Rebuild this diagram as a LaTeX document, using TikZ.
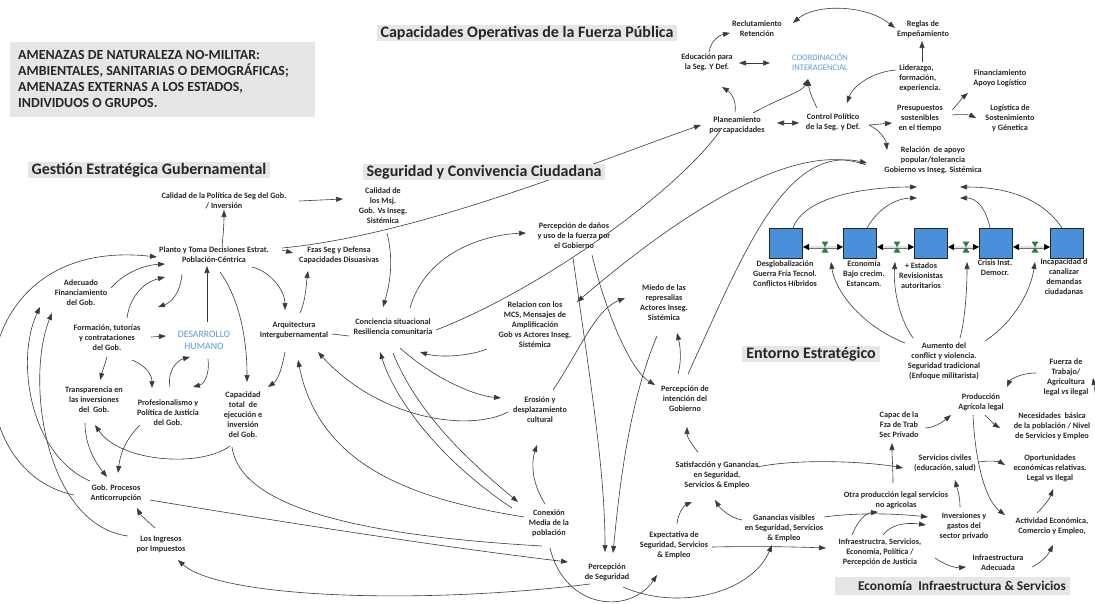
\documentclass[tikz,border=0pt]{standalone}
\usepackage{fontspec}
\setmainfont{Carlito}
\usetikzlibrary{arrows.meta,calc}
\definecolor{txt}{HTML}{262626}
\definecolor{lnk}{HTML}{3A3A3A}
\definecolor{hdrbg}{HTML}{E6E6E6}
\definecolor{blu}{HTML}{5B9BD5}
\definecolor{boxblue}{HTML}{4A8FDA}
\definecolor{valvegreen}{HTML}{2E7A4C}
\tikzset{
  lbl/.style={align=center, text=txt, font=\fontsize{8.2}{10}\selectfont\bfseries, inner sep=1pt},
  bluelbl/.style={align=center, text=blu, font=\fontsize{8.5}{10.5}\selectfont, inner sep=1pt},
  hdr/.style={fill=hdrbg, text=black!85, font=\fontsize{16}{17}\selectfont\bfseries, inner xsep=4pt, inner ysep=1.5pt},
  arr/.style={draw=lnk, line width=0.6pt, -{Triangle[length=7pt,width=5pt]}},
  dbl/.style={draw=lnk, line width=0.6pt, {Triangle[length=7pt,width=5pt]}-{Triangle[length=7pt,width=5pt]}},
  ln/.style={draw=lnk, line width=0.6pt},
  sysbox/.style={draw=black!85, line width=1pt, fill=boxblue, minimum width=33pt, minimum height=30pt, inner sep=0pt},
  pipeend/.style={draw=black, line width=0.5pt, {Triangle[length=6pt,width=6pt]}-{Triangle[length=6pt,width=6pt]}},
  pipeband/.style={draw=black!55, line width=3pt, shorten <=6pt, shorten >=6pt},
  pipecore/.style={draw=black!12, line width=1.3pt, shorten <=6pt, shorten >=6pt}
}
\begin{document}
\begin{tikzpicture}[x=1pt,y=-1pt]
\useasboundingbox (0,0) rectangle (1095,603);
\fill[white] (0,0) rectangle (1095,603);

% ---------- threat box ----------
\fill[hdrbg] (10,42) rectangle (315,117);
\node[anchor=west, align=left, text=txt, font=\fontsize{13.9}{15.8}\selectfont\bfseries, inner sep=0pt] (amen) at (18,79)
  {AMENAZAS DE NATURALEZA NO-MILITAR:\\AMBIENTALES, SANITARIAS O DEMOGRÁFICAS;\\AMENAZAS EXTERNAS A LOS ESTADOS,\\INDIVIDUOS O GRUPOS.};

% ---------- operational capacities ----------
\node[lbl] (recl) at (757,29) {Reclutamiento\\Retención};
\node[lbl] (reglas) at (923,29) {Reglas de\\Empeñamiento};
\node[lbl] (educ) at (707,62) {Educación para\\la Seg. Y Def.};
\node[bluelbl] (coord) at (820,62) {COORDINACIÓN\\INTERAGENCIAL};
\node[lbl, align=left] (lider) at (920,78) {Liderazgo,\\formación,\\experiencia.};
\node[lbl] (plan) at (737,125) {Planeamiento\\por capacidades};
\node[lbl] (ctrl) at (833,122) {Control Político\\de la Seg. y Def.};
\node[lbl] (presu) at (920,118) {Presupuestos\\sostenibles\\en el tiempo};
\node[lbl] (finan) at (1000,78) {Financiamiento\\Apoyo Logístico};
\node[lbl] (logis) at (1010,118) {Logística de\\Sostenimiento\\y Génetica};
\node[lbl] (apoyo) at (933,160) {Relación\ \ de apoyo\\popular/tolerancia\\Gobierno vs Inseg. Sistémica};

% ---------- government management ----------
\node[lbl] (calpol) at (224,201) {Calidad de la Política de Seg del Gob.\\/ Inversión};
\node[lbl] (calmsj) at (383,206) {Calidad de\\los Msj.\\Gob. Vs Inseg.\\Sistémica};
\node[lbl] (planto) at (214,255) {Planto y Toma Decisiones Estrat.\\Población-Céntrica};
\node[lbl] (fzas) at (339,255) {Fzas Seg y Defensa\\Capacidades Disuasivas};
\node[lbl] (adec) at (81,293) {Adecuado\\Financiamiento\\del Gob.};
\node[lbl] (form) at (107,338) {Formación, tutorías\\y contrataciones\\del Gob.};
\node[bluelbl, font=\fontsize{9.8}{12}\selectfont] (desa) at (204,340) {DESARROLLO\\HUMANO};
\node[lbl] (arqu) at (294,330) {Arquitectura\\Intergubernamental};
\node[lbl] (transp) at (94,400) {Transparencia en\\las inversiones\\del\ \ Gob.};
\node[lbl] (prof) at (168,413) {Profesionalismo y\\Política de Justicia\\del Gob.};
\node[lbl] (capac) at (243,415) {Capacidad\\total\ \ de\\ejecución e\\inversión\\del Gob.};
\node[lbl] (anticor) at (116,493) {Gob. Procesos\\Anticorrupción};
\node[lbl] (ingr) at (161,544) {Los Ingresos\\por Impuestos};

% ---------- citizen security ----------
\node[lbl] (conc) at (393,327) {Conciencia situacional\\Resiliencia comunitaria};
\node[lbl] (danos) at (574,236) {Percepción de daños\\y uso de la fuerza por\\el Gobierno};
\node[lbl] (mcs) at (535,325) {Relacion con los\\MCS, Mensajes de\\Amplificación\\Gob vs Actores Inseg.\\Sistémica};
\node[lbl] (miedo) at (664,303) {Miedo de las\\represalias\\Actores Inseg.\\Sistémica};
\node[lbl] (eros) at (540,410) {Erosión y\\desplazamiento\\cultural};
\node[lbl] (intenc) at (685,399) {Percepción de\\intención del\\Gobierno};
\node[lbl] (conex) at (549,523) {Conexión\\Media de la\\población};
\node[lbl] (percseg) at (607,572) {Percepción\\de Seguridad};
\node[lbl] (expec) at (674,545) {Expectativa de\\Seguridad, Servicios\\\& Empleo};
\node[lbl] (satis) at (717,475) {Satisfacción y Ganancias\\en Seguridad,\\Servicios \& Empleo};

% ---------- economy ----------
\node[lbl] (ganan) at (784,528) {Ganancias visibles\\en Seguridad, Servicios\\\& Empleo};
\node[lbl] (infra) at (880,552) {Infraestructra, Servicios,\\Economía, Política /\\Percepción de Justicia};
\node[lbl] (otra) at (896,500) {Otra producción legal servicios\\no agricolas};
\node[lbl] (inver) at (964,526) {Inversiones y\\gastos del\\sector privado};
\node[lbl] (servc) at (945,463) {Servicios civiles\\(educación, salud)};
\node[lbl] (capft) at (899,425) {Capac de la\\Fza de Trab\\Sec Privado};
\node[lbl] (prod) at (981,402) {Producción\\Agrícola legal};
\node[lbl] (fuerza) at (1066,377) {Fuerza de\\Trabajo/\\Agricultura\\legal vs ilegal};
\node[lbl] (neces) at (1052,426) {Necesidades\ \ básica\\de la población / Nivel\\de Servicios y Empleo};
\node[lbl] (oport) at (1050,468) {Oportunidades\\económicas relativas.\\Legal vs Ilegal};
\node[lbl] (activ) at (1052,526) {Actividad Económica,\\Comercio y Empleo,};
\node[lbl] (infad) at (998,563) {Infraestructura\\Adecuada};

% ---------- strategic environment ----------
\node[lbl] (aumen) at (944,361) {Aumento del\\conflict y violencia.\\Seguridad tradicional\\(Enfoque militarista)};
\node[sysbox] (b1) at (786,243) {};
\node[sysbox] (b2) at (860,243) {};
\node[sysbox] (b3) at (931,243) {};
\node[sysbox] (b4) at (996,243) {};
\node[sysbox] (b5) at (1067,243) {};
\node[lbl] (l1) at (785,274) {Desglobalización\\Guerra Fría Tecnol.\\Conflictos Híbridos};
\node[lbl] (l2) at (864,274) {Economía\\Bajo crecim.\\Estancam.};
\node[lbl] (l3) at (921,276) {+ Estados\\Revisionistas\\autoritarios};
\node[lbl] (l4) at (995,268) {Crisis Inst.\\Democr.};
\node[lbl] (l5) at (1064,277) {Incapacidad d\\canalizar\\demandas\\ciudadanas};
\coordinate (v1) at (825,247);
\coordinate (v2) at (897,247);
\coordinate (v3) at (966,247);
\coordinate (v4) at (1035,247);

% pipes between the system boxes
\foreach \a/\b in {b1/b2,b2/b3,b3/b4,b4/b5}{
  \draw[pipeend] ($(\a.east)+(0,4)$) -- ($(\b.west)+(0,4)$);
  \draw[pipeband] ($(\a.east)+(0,4)$) -- ($(\b.west)+(0,4)$);
  \draw[pipecore] ($(\a.east)+(0,4)$) -- ($(\b.west)+(0,4)$);
}
\foreach \v in {v1,v2,v3,v4}{
  \fill[valvegreen] ($(\v)+(-3.5,-5.5)$) -- ($(\v)+(3.5,-5.5)$) -- ($(\v)+(-3.5,5.5)$) -- ($(\v)+(3.5,5.5)$) -- cycle;
}

% ---------- connectors: operational capacities ----------
\draw[arr] ($(educ)+(2,-10)$) .. controls (711,40) and (720,35) .. ($(recl)+(-27,4)$);
\draw[dbl] ($(recl)+(36,-6)$) .. controls (815,4) and (865,4) .. ($(reglas)+(-28,-1)$);
\draw[dbl] ($(educ)+(32,1)$) -- ($(coord)+(-50,1)$);
\draw[arr] ($(plan)+(-2,-13)$) .. controls (737,100) and (730,92) .. ($(educ)+(15,25)$);
\draw[arr] ($(plan)+(16,-12)$) .. controls (780,98) and (802,92) .. ($(coord)+(-12,17)$);
\draw[arr] ($(ctrl)+(-16,-14)$) .. controls (812,98) and (809,90) .. ($(coord)+(-12,17)$);
\draw[dbl] ($(plan)+(40,-2)$) -- ($(ctrl)+(-34,1)$);
\draw[arr] ($(lider)+(2,-16)$) -- ($(reglas)+(-1,12)$);
\draw[arr] ($(lider)+(-24,-8)$) .. controls (870,72) and (852,88) .. ($(ctrl)+(14,-19)$);
\draw[arr] ($(ctrl)+(36,3)$) -- ($(presu)+(-28,5)$);
\draw[arr] ($(ctrl)+(36,3)$) .. controls (880,130) and (886,140) .. ($(apoyo)+(-46,-10)$);
\draw[arr] ($(presu)+(32,-8)$) .. controls (958,104) and (962,98) .. ($(finan)+(-32,15)$);
\draw[arr] ($(presu)+(32,-3)$) .. controls (962,114) and (970,115) .. ($(logis)+(-34,0)$);

% long links across the picture
\draw[ln] ($(conc)+(43,3)$) .. controls (540,290) and (680,190) .. ($(plan)+(-15,3)$);
\draw[arr] ($(apoyo)+(-67,5)$) .. controls (800,140) and (690,205) .. ($(mcs)+(42,-23)$);
\draw[arr] ($(intenc)+(3,-25)$) .. controls (745,250) and (785,145) .. ($(apoyo)+(-66,3)$);
\draw[arr] ($(planto)+(68,-7)$) .. controls (420,235) and (600,160) .. ($(plan)+(-36,0)$);

% system boxes towards popular support
\draw[arr] ($(b1)+(7,-15)$) .. controls (805,195) and (870,187) .. ($(apoyo)+(-16,27)$);
\draw[arr] ($(b2)+(7,-15)$) .. controls (880,205) and (900,198) .. ($(apoyo)+(-16,38)$);
\draw[arr] ($(b4)+(-6,-15)$) .. controls (985,205) and (975,198) .. ($(apoyo)+(27,38)$);
\draw[arr] ($(b5)+(-5,-15)$) .. controls (1040,195) and (1000,187) .. ($(apoyo)+(27,27)$);

% conflict towards the valves
\draw[arr] ($(aumen)+(-39,-18)$) .. controls (860,325) and (835,290) .. ($(v1)+(6,15)$);
\draw[arr] ($(aumen)+(-31,-23)$) .. controls (900,320) and (893,290) .. ($(v2)+(-2,15)$);
\draw[arr] ($(aumen)+(16,-23)$) .. controls (965,320) and (967,290) .. ($(v3)+(1,15)$);
\draw[arr] ($(aumen)+(41,-20)$) .. controls (1010,325) and (1030,295) .. ($(v4)+(0,15)$);

% ---------- connectors: government management ----------
\draw[arr] ($(planto)+(8,-9)$) .. controls (224,228) and (224,218) .. ($(calpol)+(0,9)$);
\draw[arr] ($(calpol)+(75,0)$) -- ($(calmsj)+(-40,-7)$);
\draw[arr] ($(calmsj)+(4,27)$) .. controls (395,265) and (388,290) .. ($(conc)+(-10,-20)$);
\draw[arr] ($(planto)+(68,-5)$) -- ($(fzas)+(-46,-2)$);
\draw[arr] ($(planto)+(38,12)$) .. controls (272,272) and (285,292) .. ($(arqu)+(-9,-20)$);
\draw[arr] ($(arqu)+(6,-17)$) .. controls (306,300) and (306,285) .. ($(fzas)+(-31,16)$);
\draw[ln] ($(arqu)+(38,4)$) -- ($(conc)+(-44,9)$);
\draw[arr] ($(adec)+(30,-5)$) .. controls (125,272) and (145,265) .. ($(planto)+(-49,9)$);
\draw[arr] ($(form)+(20,-20)$) .. controls (130,295) and (145,282) .. ($(planto)+(-49,22)$);
\draw[arr] ($(planto)+(-32,19)$) .. controls (180,295) and (170,303) .. ($(form)+(51,-31)$);
\draw[arr] ($(anticor)+(-42,2)$) .. controls (-48,470) and (-42,235) .. ($(planto)+(-57,2)$);
\draw[arr] ($(anticor)+(-26,-12)$) .. controls (30,455) and (15,360) .. ($(adec)+(-41,14)$);
\draw[arr] ($(ingr)+(-33,-8)$) .. controls (45,525) and (25,380) .. ($(adec)+(-29,20)$);
\draw[arr] ($(form)+(44,-1)$) -- ($(desa)+(-38,-4)$);
\draw[arr] ($(desa)+(3,-18)$) -- ($(planto)+(-7,11)$);
\draw[arr] ($(form)+(0,19)$) .. controls (104,366) .. ($(transp)+(6,-20)$);
\draw[arr] ($(form)+(25,22)$) .. controls (147,366) and (152,376) .. ($(prof)+(-16,-25)$);
\draw[arr] ($(prof)+(2,-26)$) .. controls (167,370) and (178,360) .. ($(desa)+(-14,17)$);
\draw[arr] ($(desa)+(4,19)$) .. controls (210,374) and (204,384) .. ($(prof)+(25,-26)$);
\draw[arr] ($(planto)+(6,17)$) .. controls (240,300) and (247,340) .. ($(capac)+(4,-33)$);
\draw[arr] ($(arqu)+(-9,22)$) .. controls (282,368) and (278,380) .. ($(capac)+(25,-28)$);
\draw[arr] ($(capac)+(-13,31)$) .. controls (200,468) and (120,462) .. ($(transp)+(1,25)$);
\draw[arr] ($(transp)+(-9,23)$) .. controls (85,445) and (95,462) .. ($(anticor)+(-9,-16)$);
\draw[arr] ($(prof)+(-28,12)$) .. controls (125,440) and (120,455) .. ($(anticor)+(2,-20)$);
\draw[arr] ($(ingr)+(-6,-16)$) .. controls (146,520) and (140,514) .. ($(anticor)+(21,15)$);
\draw[ln] ($(capac)+(-11,32)$) .. controls (240,505) and (350,535) .. ($(conex)+(-7,23)$);
\draw[arr] ($(anticor)+(34,7)$) .. controls (300,525) and (450,548) .. ($(percseg)+(-39,-10)$);
\draw[arr] ($(percseg)+(-17,12)$) .. controls (420,605) and (220,598) .. ($(ingr)+(17,16)$);

% ---------- connectors: citizen security ----------
\draw[arr] ($(conex)+(-25,-6)$) .. controls (420,500) and (320,470) .. ($(arqu)+(4,30)$);
\draw[arr] ($(eros)+(-32,2)$) .. controls (470,432) and (380,420) .. ($(arqu)+(24,22)$);
\draw[arr] ($(conc)+(7,21)$) .. controls (430,375) and (470,395) .. ($(eros)+(-39,-12)$);
\draw[arr] ($(mcs)+(-48,24)$) .. controls (470,356) and (440,358) .. ($(conc)+(27,25)$);
\draw[arr] ($(conc)+(17,-19)$) .. controls (425,255) and (480,235) .. ($(danos)+(-48,-3)$);
\draw[arr] ($(conex)+(-37,-15)$) .. controls (440,460) and (395,400) .. ($(conc)+(-13,25)$);
\draw[arr] ($(conc)+(0,26)$) .. controls (420,420) and (480,470) .. ($(conex)+(-31,-21)$);
\draw[arr] ($(conex)+(-4,-19)$) .. controls (530,480) and (532,460) .. ($(eros)+(-3,35)$);
\draw[arr] ($(eros)+(13,-20)$) .. controls (580,350) and (595,310) .. ($(miedo)+(-39,-5)$);
\draw[arr] ($(danos)+(-1,22)$) .. controls (590,380) and (605,470) .. ($(percseg)+(-2,-20)$);
\draw[arr] ($(danos)+(18,19)$) .. controls (605,310) and (630,370) .. ($(intenc)+(-30,-14)$);
\draw[arr] ($(miedo)+(-7,33)$) .. controls (630,400) and (620,480) .. ($(percseg)+(6,-19)$);
\draw[arr] ($(intenc)+(-7,-25)$) .. controls (682,360) and (680,345) .. ($(miedo)+(13,30)$);
\draw[arr] ($(satis)+(-19,-23)$) .. controls (692,445) and (687,437) .. ($(intenc)+(2,28)$);
\draw[arr] ($(expec)+(3,-21)$) .. controls (678,512) and (685,505) .. ($(satis)+(-25,27)$);
\draw[arr] ($(ganan)+(-42,-8)$) .. controls (730,518) and (720,508) .. ($(satis)+(-2,25)$);
\draw[arr] ($(conex)+(1,25)$) .. controls (565,610) and (630,615) .. ($(expec)+(-17,30)$);
\draw[arr] ($(expec)+(38,2)$) .. controls (760,546) and (800,547) .. ($(infra)+(-54,-4)$);
\draw[arr] ($(percseg)+(16,15)$) .. controls (680,612) and (752,592) .. ($(ganan)+(-12,17)$);

% ---------- connectors: economy ----------
\draw[arr] ($(satis)+(40,-8)$) .. controls (800,458) and (870,462) .. ($(servc)+(-42,5)$);
\draw[arr] ($(ganan)+(40,-11)$) .. controls (860,512) and (900,514) .. ($(inver)+(-36,-9)$);
\draw[arr] ($(infra)+(-28,-17)$) .. controls (858,520) and (866,513) .. ($(otra)+(-18,12)$);
\draw[arr] ($(infra)+(3,-17)$) .. controls (890,525) and (905,522) .. ($(inver)+(-38,-1)$);
\draw[arr] ($(otra)+(-3,-17)$) .. controls (893,470) and (892,455) .. ($(capft)+(-7,18)$);
\draw[arr] ($(inver)+(-4,-19)$) .. controls (960,495) and (957,488) .. ($(servc)+(10,17)$);
\draw[arr] ($(capft)+(26,3)$) .. controls (935,428) and (945,420) .. ($(prod)+(-30,13)$);
\draw[arr] ($(prod)+(4,13)$) .. controls (990,420) and (995,425) .. ($(neces)+(-52,2)$);
\draw[arr] ($(prod)+(-8,13)$) .. controls (975,460) and (985,500) .. ($(activ)+(-47,-11)$);
\draw[arr] ($(fuerza)+(-30,-4)$) .. controls (1020,373) and (1010,380) .. ($(prod)+(26,-15)$);
\coordinate (rimR) at (1097,402);
\draw[arr] (rimR) .. controls (1095,392) .. ($(fuerza)+(27,1)$);
\draw[arr] ($(servc)+(34,-1)$) .. controls (990,460) and (1000,462) .. ($(oport)+(-45,-3)$);
\draw[arr] ($(activ)+(-15,-13)$) .. controls (1045,505) and (1050,498) .. ($(oport)+(3,21)$);
\draw[arr] ($(infra)+(55,6)$) .. controls (945,565) and (955,568) .. ($(infad)+(-32,4)$);
\draw[arr] ($(infad)+(34,4)$) .. controls (1042,562) and (1048,555) .. ($(activ)+(1,19)$);

% ---------- section headers ----------
\node[hdr] (hGest) at (149,170) {Gestión Estratégica Gubernamental};
\node[hdr] (hCap) at (527,33) {Capacidades Operativas de la Fuerza Pública};
\node[hdr] (hSeg) at (484,172) {Seguridad y Convivencia Ciudadana};
\node[hdr] (hEnt) at (811,354) {Entorno Estratégico};
\fill[hdrbg] (835,577) rectangle (1070,595);
\node[text=black!85, font=\fontsize{13.4}{15}\selectfont\bfseries, inner sep=0pt] (hEco) at (962,586) {Economía\ \ Infraestructura \& Servicios};
\end{tikzpicture}
\end{document}
